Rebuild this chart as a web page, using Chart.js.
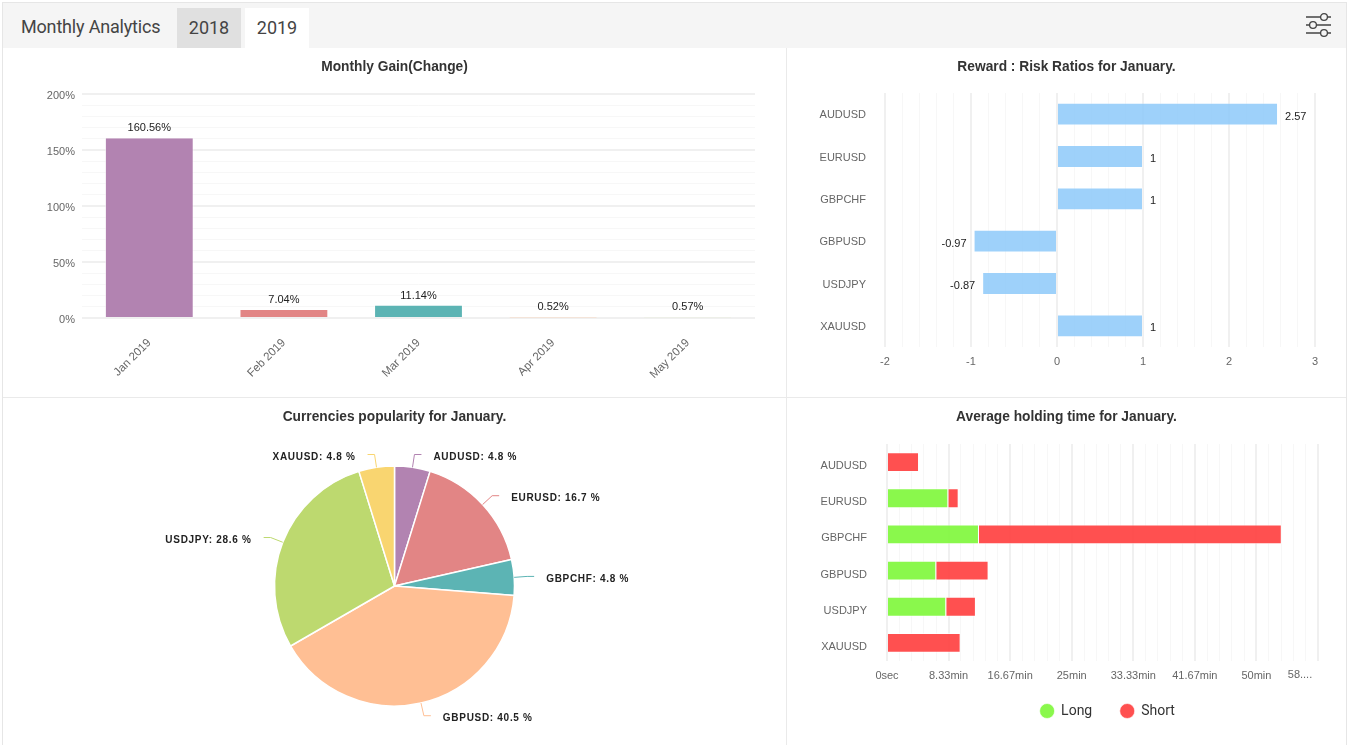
<!DOCTYPE html>
<html>
<head>
<meta charset="utf-8">
<title>Monthly Analytics</title>
<script src="https://cdn.jsdelivr.net/npm/chart.js@4"></script>
<style>
  html, body { margin: 0; padding: 0; background: #fff; overflow: hidden; }
  #page { position: relative; width: 1349px; height: 745px; }
  .abs { position: absolute; }
  #frame { left: 2px; top: 2px; width: 1343px; height: 743px; border: 1px solid #e6e6e6; border-bottom: none; }
  #head { left: 3px; top: 3px; width: 1343px; height: 45px; background: #f5f5f5; }
  .htext { font-family: Roboto, sans-serif; font-size: 18px; color: #444; line-height: 40px; height: 40px; top: 7px; }
  .tab { top: 8px; width: 64px; text-align: center; }
  #t18 { left: 177px; background: #e0e0e0; }
  #t19 { left: 245px; background: #fff; }
  #vline { left: 786px; top: 48px; width: 1px; height: 697px; background: #eaeaea; }
  #hline { left: 3px; top: 397px; width: 1343px; height: 1px; background: #eaeaea; }
  canvas { position: absolute; }
</style>
</head>
<body>
<div id="page">
  <div class="abs" id="frame"></div>
  <div class="abs" id="head"></div>
  <div class="abs htext" style="left:21px;letter-spacing:-0.18px">Monthly Analytics</div>
  <div class="abs htext tab" id="t18" style="line-height:40px;top:8px">2018</div>
  <div class="abs htext tab" id="t19" style="line-height:40px;top:8px">2019</div>
  <svg class="abs" style="left:1304px;top:12px" width="30" height="28" fill="none" stroke="#444" stroke-width="1.3">
    <path d="M2 5H27M2 13H27M2 21H27"/>
    <circle cx="20" cy="5" r="3.4" fill="#f5f5f5"/>
    <circle cx="9" cy="13" r="3.4" fill="#f5f5f5"/>
    <circle cx="20" cy="21" r="3.4" fill="#f5f5f5"/>
  </svg>
  <div class="abs" id="vline"></div>
  <div class="abs" id="hline"></div>
  <canvas id="gain" style="left:3px;top:48px" width="783" height="349"></canvas>
  <canvas id="ratio" style="left:787px;top:48px" width="559" height="349"></canvas>
  <canvas id="pop" style="left:3px;top:398px" width="783" height="347"></canvas>
  <canvas id="hold" style="left:787px;top:398px" width="559" height="347"></canvas>
</div>
<script>
// Monthly gain, percent
const months = ['Jan 2019', 'Feb 2019', 'Mar 2019', 'Apr 2019', 'May 2019'];
const gainValues = [160.56, 7.04, 11.14, 0.52, 0.57];
const gainColors = ['#b283b1', '#e28585', '#5cb4b4', '#ffbf94', '#bdd96f'];

// Reward : risk ratio per symbol
const symbols = ['AUDUSD', 'EURUSD', 'GBPCHF', 'GBPUSD', 'USDJPY', 'XAUUSD'];
const ratioValues = [2.57, 1, 1, -0.97, -0.87, 1];

// Share of trades per symbol, percent
const popularity = [4.8, 16.7, 4.8, 40.5, 28.6, 4.8];
const popularityColors = ['#b283b1', '#e28585', '#5cb4b4', '#ffbf94', '#bdd96f', '#f9d570'];

// Average holding time per symbol, seconds
const longSeconds = [0, 498, 747, 400, 481, 0];
const shortSeconds = [260, 84, 2459, 425, 241, 598];
const holdTickLabels = { 0: '0sec', 500: '8.33min', 1000: '16.67min', 1500: '25min', 2000: '33.33min', 2500: '41.67min', 3000: '50min' };
const holdLastLabel = '58....';

Chart.defaults.font.family = '"Liberation Sans", Arial, sans-serif';
Chart.defaults.font.size = 11;
Chart.defaults.color = '#666';
Chart.defaults.animation = false;
Chart.defaults.responsive = false;
Chart.defaults.plugins.legend.display = false;
Chart.defaults.plugins.tooltip.enabled = false;

const GRID_MAJOR = '#f0f0f0';
const GRID_MINOR = '#f7f7f7';

function panelTitle(text, bottom) {
  return {
    display: true, text, color: '#333',
    font: { size: 13.75, weight: 'bold' },
    padding: { top: 10.5, bottom }
  };
}
function fixedWidth(w) { return s => { s.width = w; }; }
function fixedHeight(h) { return s => { s.height = h; }; }
function isMultiple(v, step) {
  const q = v / step;
  return Math.abs(q - Math.round(q)) < 1e-6;
}
// Gridlines: heavier at labelled ticks, faint in between
function gridFor(step) {
  return {
    drawTicks: false,
    color: c => isMultiple(c.tick.value, step) ? GRID_MAJOR : GRID_MINOR,
    lineWidth: c => isMultiple(c.tick.value, step) ? 2 : 1
  };
}

// Value labels above the monthly bars
const gainLabels = {
  id: 'gainLabels',
  afterDatasetsDraw(chart) {
    const { ctx } = chart;
    ctx.save();
    ctx.font = '11px "Liberation Sans", Arial, sans-serif';
    ctx.fillStyle = '#222';
    ctx.textAlign = 'center';
    ctx.textBaseline = 'middle';
    chart.getDatasetMeta(0).data.forEach((bar, i) => {
      ctx.fillText(gainValues[i].toFixed(2) + '%', bar.x, bar.y - 10);
    });
    ctx.restore();
  }
};

new Chart(document.getElementById('gain'), {
  type: 'bar',
  data: {
    labels: months,
    datasets: [{
      data: gainValues, backgroundColor: gainColors,
      borderColor: 'rgba(255,255,255,0.55)',
      borderWidth: { left: 1, right: 1, top: 0, bottom: 0 },
      categoryPercentage: 1, barPercentage: 0.66
    }]
  },
  options: {
    layout: { padding: { left: 31, right: 31 } },
    plugins: { title: panelTitle('Monthly Gain(Change)', 19) },
    scales: {
      x: {
        grid: { display: false }, border: { display: false },
        ticks: { minRotation: 45, maxRotation: 45, padding: 10, font: { size: 11.5 } },
        afterFit: fixedHeight(79)
      },
      y: {
        min: 0, max: 200,
        border: { display: false },
        grid: gridFor(50),
        ticks: {
          stepSize: 10, autoSkip: false, padding: 7, labelOffset: 2,
          callback: v => isMultiple(v, 50) ? v + '%' : ''
        },
        afterFit: fixedWidth(48)
      }
    }
  },
  plugins: [gainLabels]
});

// Value labels beside the ratio bars
const ratioLabels = {
  id: 'ratioLabels',
  afterDatasetsDraw(chart) {
    const { ctx } = chart;
    ctx.save();
    ctx.font = '11px "Liberation Sans", Arial, sans-serif';
    ctx.fillStyle = '#222';
    ctx.textBaseline = 'middle';
    chart.getDatasetMeta(0).data.forEach((bar, i) => {
      const v = ratioValues[i];
      ctx.textAlign = v < 0 ? 'right' : 'left';
      ctx.fillText(String(v), bar.x + (v < 0 ? -7 : 7), bar.y + 2.5);
    });
    ctx.restore();
  }
};

new Chart(document.getElementById('ratio'), {
  type: 'bar',
  data: {
    labels: symbols,
    datasets: [{
      data: ratioValues, backgroundColor: 'rgba(144,202,249,0.87)',
      borderColor: 'rgba(255,255,255,0.3)', borderWidth: 1,
      categoryPercentage: 1, barPercentage: 0.54
    }]
  },
  options: {
    indexAxis: 'y',
    layout: { padding: { left: 31, right: 31 } },
    plugins: { title: panelTitle('Reward : Risk Ratios for January.', 18) },
    scales: {
      x: {
        min: -2, max: 3,
        border: { display: false },
        grid: gridFor(1),
        ticks: {
          stepSize: 0.2, autoSkip: false, maxRotation: 0, padding: 8,
          callback: v => isMultiple(v, 1) ? String(Math.round(v)) : ''
        },
        afterFit: fixedHeight(50)
      },
      y: {
        grid: { display: false }, border: { display: false },
        ticks: { padding: 11, labelOffset: 1 },
        afterFit: fixedWidth(67)
      }
    }
  },
  plugins: [ratioLabels]
});

// Elbow connectors and labels around the pie
const pieCallouts = {
  id: 'pieCallouts',
  afterDatasetsDraw(chart) {
    const { ctx } = chart;
    ctx.save();
    ctx.font = 'bold 10px "Liberation Sans", Arial, sans-serif';
    ctx.letterSpacing = '0.7px';
    ctx.fillStyle = '#222';
    ctx.textBaseline = 'middle';
    ctx.lineWidth = 1;
    chart.getDatasetMeta(0).data.forEach((arc, i) => {
      const mid = (arc.startAngle + arc.endAngle) / 2;
      const dx = Math.cos(mid), dy = Math.sin(mid);
      const r = arc.outerRadius;
      const ex = arc.x + dx * (r + 13), ey = arc.y + dy * (r + 13);
      const side = dx >= 0 ? 1 : -1;
      ctx.strokeStyle = popularityColors[i];
      ctx.beginPath();
      ctx.moveTo(arc.x + dx * r, arc.y + dy * r);
      ctx.lineTo(ex, ey);
      ctx.lineTo(ex + side * 7, ey);
      ctx.stroke();
      ctx.textAlign = side > 0 ? 'left' : 'right';
      ctx.fillText(symbols[i] + ': ' + popularity[i].toFixed(1) + ' %', ex + side * 19, ey + 3);
    });
    ctx.restore();
  }
};

new Chart(document.getElementById('pop'), {
  type: 'pie',
  data: {
    labels: symbols,
    datasets: [{ data: popularity, backgroundColor: popularityColors, borderColor: '#fff', borderWidth: 1.5 }]
  },
  options: {
    layout: { padding: { bottom: 38.25 } },
    plugins: { title: panelTitle('Currencies popularity for January.', 40.25) }
  },
  plugins: [pieCallouts]
});

// The last tick's label is truncated and sits left of its gridline
const holdLastTick = {
  id: 'holdLastTick',
  afterDraw(chart) {
    const { ctx, scales: { x } } = chart;
    ctx.save();
    ctx.font = '11px "Liberation Sans", Arial, sans-serif';
    ctx.fillStyle = '#666';
    ctx.textAlign = 'center';
    ctx.textBaseline = 'middle';
    ctx.fillText(holdLastLabel, x.getPixelForValue(x.max) - 18, x.top + 14);
    ctx.restore();
  }
};

// The legend sits right of the panel's centre and close under the axis
const legendShift = {
  id: 'legendShift',
  afterLayout(chart) {
    const lg = chart.legend;
    lg.left += 41;
    lg.right += 41;
    lg.top -= 15;
    lg.bottom -= 15;
  }
};

new Chart(document.getElementById('hold'), {
  type: 'bar',
  data: {
    labels: symbols,
    datasets: [
      { label: 'Long', data: longSeconds, backgroundColor: 'rgba(125,247,57,0.9)', borderColor: 'rgba(255,255,255,0.6)', borderWidth: 1, categoryPercentage: 1, barPercentage: 0.55 },
      { label: 'Short', data: shortSeconds, backgroundColor: 'rgba(255,61,61,0.9)', borderColor: 'rgba(255,255,255,0.6)', borderWidth: 1, categoryPercentage: 1, barPercentage: 0.55 }
    ]
  },
  options: {
    indexAxis: 'y',
    layout: { padding: { left: 28, right: 28, bottom: 2 } },
    plugins: {
      title: panelTitle('Average holding time for January.', 19),
      legend: {
        display: true, position: 'bottom',
        labels: {
          usePointStyle: true, pointStyle: 'circle', boxWidth: 14, boxHeight: 10.6,
          padding: 28, color: '#333',
          font: { family: 'Roboto, sans-serif', size: 14 }
        }
      }
    },
    scales: {
      x: {
        stacked: true, min: 0, max: 3500,
        border: { display: false },
        grid: gridFor(500),
        ticks: {
          stepSize: 100, autoSkip: false, maxRotation: 0, padding: 8,
          callback: v => holdTickLabels[v] || ''
        },
        afterFit: fixedHeight(30)
      },
      y: {
        stacked: true,
        grid: { display: false }, border: { display: false },
        ticks: { padding: 12, labelOffset: 4 },
        afterFit: fixedWidth(72)
      }
    }
  },
  plugins: [holdLastTick, legendShift]
});
</script>
</body>
</html>
